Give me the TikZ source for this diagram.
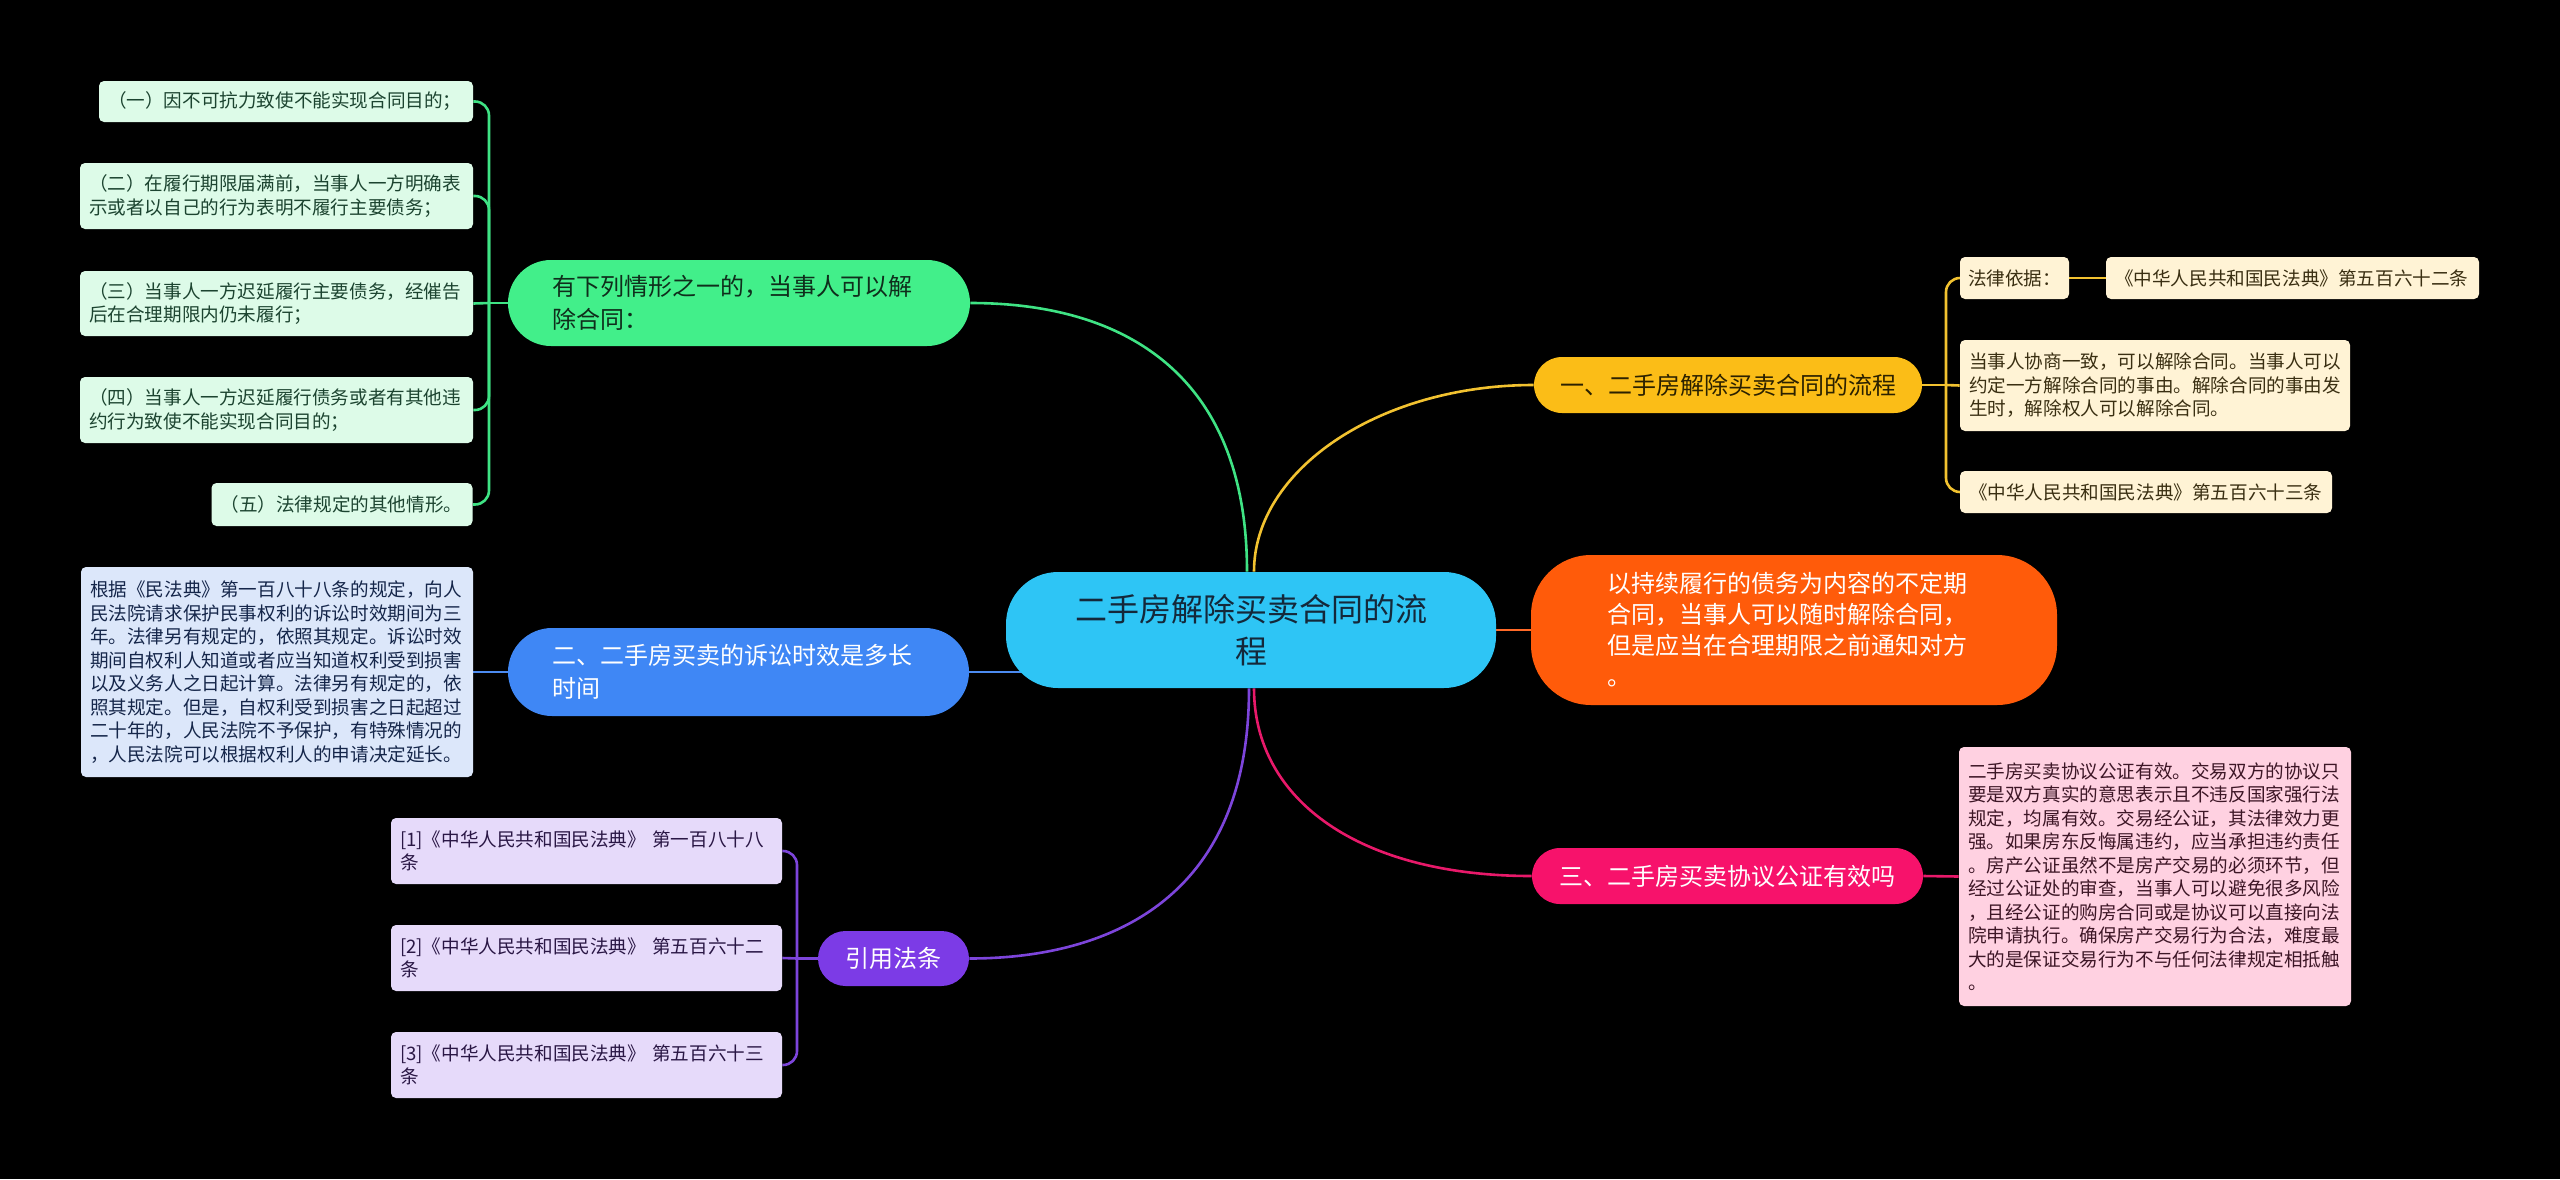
\documentclass[tikz,border=0pt]{standalone}
\usepackage{fontspec}
\setmainfont{Noto Sans CJK SC}
\definecolor{cCenter}{HTML}{2EC5F5}
\definecolor{cCenterT}{HTML}{14283A}
\definecolor{cGreen}{HTML}{42EF8A}
\definecolor{cGreenT}{HTML}{0F2E1C}
\definecolor{cGreenL}{HTML}{DDFBE8}
\definecolor{cGreenLT}{HTML}{1C4430}
\definecolor{cGreenLine}{HTML}{3FE384}
\definecolor{cBlue}{HTML}{3F87F5}
\definecolor{cBlueL}{HTML}{DCE7FA}
\definecolor{cBlueLT}{HTML}{15264A}
\definecolor{cBlueLine}{HTML}{4C8BF0}
\definecolor{cPurple}{HTML}{7C3BE6}
\definecolor{cPurpleL}{HTML}{E6DAFA}
\definecolor{cPurpleLT}{HTML}{2A1745}
\definecolor{cPurpleLine}{HTML}{7D45DB}
\definecolor{cYellow}{HTML}{FBBD17}
\definecolor{cYellowT}{HTML}{2B2100}
\definecolor{cYellowL}{HTML}{FFF3D5}
\definecolor{cYellowLT}{HTML}{3A2F12}
\definecolor{cYellowLine}{HTML}{F2C230}
\definecolor{cOrange}{HTML}{FF5B0A}
\definecolor{cOrangeLine}{HTML}{FF6A28}
\definecolor{cPink}{HTML}{F7126B}
\definecolor{cPinkL}{HTML}{FFD1E1}
\definecolor{cPinkLT}{HTML}{3D1626}
\definecolor{cPinkLine}{HTML}{E8196A}
\pgfdeclarelayer{bg}
\pgfsetlayers{bg,main}
\begin{document}
\begin{tikzpicture}[x=0.5pt,y=-0.5pt,
  leaf/.style={rounded corners=2.5pt, inner ysep=0pt, inner xsep=4.5pt, align=left,
    font=\fontsize{9.3pt}{11.75pt}\selectfont},
  branch/.style={inner ysep=0pt, font=\fontsize{12pt}{16.5pt}\selectfont},
  conn/.style={line width=1.3pt},
  hook/.style={line width=1.3pt, rounded corners=7pt}]
\useasboundingbox (0,0) rectangle (2560,1179);

% central node
\node[fill=cCenter, rounded corners=26pt, minimum width=245pt, minimum height=58pt,
  text width=200pt, inner xsep=22.5pt, inner ysep=0pt, align=center,
  font=\fontsize{16pt}{21pt}\selectfont, text=cCenterT] (center) at (1251,630)
  {二手房解除买卖合同的流\\程};

% branch nodes
\node[branch, fill=cGreen, rounded corners=21.5pt, minimum height=43pt, text width=187pt,
  inner xsep=22pt, align=left, text=cGreenT] (gbr) at (739,303)
  {有下列情形之一的，当事人可以解\\除合同：};
\node[branch, fill=cBlue, rounded corners=22pt, minimum height=44pt, text width=186.5pt,
  inner xsep=22pt, align=left, text=white] (bbr) at (738.5,672)
  {二、二手房买卖的诉讼时效是多长\\时间};
\node[branch, fill=cPurple, rounded corners=13.75pt, minimum height=27.5pt,
  minimum width=75.5pt, text=white] (pbr) at (893.5,958.5) {引用法条};
\node[branch, fill=cYellow, rounded corners=14pt, minimum height=28pt,
  minimum width=194pt, text=cYellowT] (ybr) at (1728,385) {一、二手房解除买卖合同的流程};
\node[branch, fill=cPink, rounded corners=14pt, minimum height=28pt,
  minimum width=195.5pt, text=white] (kbr) at (1727.5,876) {三、二手房买卖协议公证有效吗};
\node[branch, fill=cOrange, rounded corners=30pt, minimum height=75pt, text width=187pt,
  inner xsep=38pt, align=left, text=white, font=\fontsize{12pt}{15.5pt}\selectfont]
  (orn) at (1794,630)
  {以持续履行的债务为内容的不定期\\合同，当事人可以随时解除合同，\\但是应当在合理期限之前通知对方\\。};

% green leaves
\node[leaf, fill=cGreenL, text=cGreenLT, minimum height=20.5pt, text width=178pt] (g1) at (286,101.5)
  {（一）因不可抗力致使不能实现合同目的；};
\node[leaf, fill=cGreenL, text=cGreenLT, minimum height=33pt, text width=187.5pt] (g2) at (276.5,196)
  {（二）在履行期限届满前，当事人一方明确表\\示或者以自己的行为表明不履行主要债务；};
\node[leaf, fill=cGreenL, text=cGreenLT, minimum height=32.5pt, text width=187.5pt] (g3) at (276.5,303.5)
  {（三）当事人一方迟延履行主要债务，经催告\\后在合理期限内仍未履行；};
\node[leaf, fill=cGreenL, text=cGreenLT, minimum height=33pt, text width=187.5pt] (g4) at (276.5,410)
  {（四）当事人一方迟延履行债务或者有其他违\\约行为致使不能实现合同目的；};
\node[leaf, fill=cGreenL, text=cGreenLT, minimum height=21.5pt, text width=121.5pt] (g5) at (342,504.5)
  {（五）法律规定的其他情形。};

% blue leaf
\node[leaf, fill=cBlueL, text=cBlueLT, minimum height=105pt, text width=187pt] (bl) at (277,672)
  {根据《民法典》第一百八十八条的规定，向人\\民法院请求保护民事权利的诉讼时效期间为三\\年。法律另有规定的，依照其规定。诉讼时效\\期间自权利人知道或者应当知道权利受到损害\\以及义务人之日起计算。法律另有规定的，依\\照其规定。但是，自权利受到损害之日起超过\\二十年的，人民法院不予保护，有特殊情况的\\，人民法院可以根据权利人的申请决定延长。};

% purple leaves
\node[leaf, fill=cPurpleL, text=cPurpleLT, minimum height=33pt, text width=186.5pt] (p1) at (586.5,851)
  {[1]《中华人民共和国民法典》 第一百八十八\\条};
\node[leaf, fill=cPurpleL, text=cPurpleLT, minimum height=33pt, text width=186.5pt] (p2) at (586.5,958)
  {[2]《中华人民共和国民法典》 第五百六十二\\条};
\node[leaf, fill=cPurpleL, text=cPurpleLT, minimum height=33pt, text width=186.5pt] (p3) at (586.5,1065)
  {[3]《中华人民共和国民法典》 第五百六十三\\条};

% yellow leaves
\node[leaf, fill=cYellowL, text=cYellowLT, minimum height=21pt, text width=46.5pt, inner xsep=4pt] (y1) at (2014.5,278)
  {法律依据：};
\node[leaf, fill=cYellowL, text=cYellowLT, minimum height=21pt, text width=177.5pt] (y1b) at (2292.5,278)
  {《中华人民共和国民法典》第五百六十二条};
\node[leaf, fill=cYellowL, text=cYellowLT, minimum height=45.5pt, text width=186pt] (y2) at (2155,385.5)
  {当事人协商一致，可以解除合同。当事人可以\\约定一方解除合同的事由。解除合同的事由发\\生时，解除权人可以解除合同。};
\node[leaf, fill=cYellowL, text=cYellowLT, minimum height=21pt, text width=177pt] (y3) at (2146,492)
  {《中华人民共和国民法典》第五百六十三条};

% pink leaf
\node[leaf, fill=cPinkL, text=cPinkLT, minimum height=129.5pt, text width=187pt] (kl) at (2155,876.5)
  {二手房买卖协议公证有效。交易双方的协议只\\要是双方真实的意思表示且不违反国家强行法\\规定，均属有效。交易经公证，其法律效力更\\强。如果房东反悔属违约，应当承担违约责任\\。房产公证虽然不是房产交易的必须环节，但\\经过公证处的审查，当事人可以避免很多风险\\，且经公证的购房合同或是协议可以直接向法\\院申请执行。确保房产交易行为合法，难度最\\大的是保证交易行为不与任何法律规定相抵触\\。};

% spine coordinates
\coordinate (gsp) at (489,303);
\coordinate (psp) at (797,958.5);
\coordinate (ysp) at (1946,385);

\begin{pgfonlayer}{bg}
\fill[black] (0,0) rectangle (2560,1179);
% center connectors
\draw[conn, cGreenLine] (gbr.east) .. controls ([xshift=80pt]gbr.east) and ([xshift=-2pt,yshift=96pt]center.north) .. ([xshift=-2pt]center.north);
\draw[conn, cYellowLine] ([xshift=1.5pt]center.north) .. controls ([xshift=1.5pt,yshift=51pt]center.north) and ([xshift=-77pt]ybr.west) .. (ybr.west);
\draw[conn, cPurpleLine] ([xshift=-1pt]center.south) .. controls ([xshift=-1pt,yshift=-116pt]center.south) and ([xshift=55.5pt]pbr.east) .. (pbr.east);
\draw[conn, cPinkLine] ([xshift=1.5pt]center.south) .. controls ([xshift=1.5pt,yshift=-56pt]center.south) and ([xshift=-86pt]kbr.west) .. (kbr.west);
\draw[conn, cBlueLine] (bbr.east) -- (bbr.east -| center);
\draw[conn, cOrangeLine] (center) -- (orn.west);
% green sub-connectors
\draw[conn, cGreenLine] (gbr.west) -- (gsp);
\draw[hook, cGreenLine] (gsp) -- (gsp |- g1.east) -- (g1.east);
\draw[hook, cGreenLine] (gsp) -- (gsp |- g2.east) -- (g2.east);
\draw[conn, cGreenLine] (gsp) -- (g3.east);
\draw[hook, cGreenLine] (gsp) -- (gsp |- g4.east) -- (g4.east);
\draw[hook, cGreenLine] (gsp) -- (gsp |- g5.east) -- (g5.east);
% blue
\draw[conn, cBlueLine] (bbr.west) -- (bl.east);
% purple
\draw[conn, cPurpleLine] (pbr.west) -- (psp);
\draw[hook, cPurpleLine] (psp) -- (psp |- p1.east) -- (p1.east);
\draw[conn, cPurpleLine] (psp) -- (p2.east);
\draw[hook, cPurpleLine] (psp) -- (psp |- p3.east) -- (p3.east);
% yellow
\draw[conn, cYellowLine] (ybr.east) -- (ysp);
\draw[hook, cYellowLine] (ysp) -- (ysp |- y1.west) -- (y1.west);
\draw[conn, cYellowLine] (ysp) -- (y2.west);
\draw[hook, cYellowLine] (ysp) -- (ysp |- y3.west) -- (y3.west);
\draw[conn, cYellowLine] (y1.east) -- (y1b.west);
% pink
\draw[conn, cPinkLine] (kbr.east) -- (kl.west);
\end{pgfonlayer}
\end{tikzpicture}
\end{document}
